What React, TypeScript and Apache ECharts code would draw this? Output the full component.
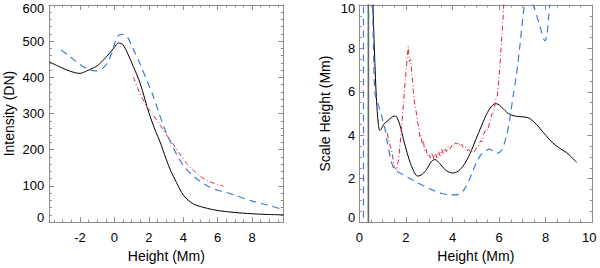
import React, { useEffect, useRef } from 'react';
import * as echarts from 'echarts';

// ---------- Left panel: Intensity vs Height ----------
const leftXTicks = [-2, 0, 2, 4, 6, 8];
const leftXMinorTicks = [-3.5, -3, -2.5, -1.5, -1, -0.5, 0.5, 1, 1.5, 2.5, 3, 3.5, 4.5, 5, 5.5, 6.5, 7, 7.5, 8.5, 9, 9.5];
const leftYTicks = [0, 100, 200, 300, 400, 500, 600];
const leftYMinorTicks = [20, 40, 60, 80, 120, 140, 160, 180, 220, 240, 260, 280, 320, 340, 360, 380, 420, 440, 460, 480, 520, 540, 560, 580];

const intensityBlack: [number, number][] = [
  [-3.78, 443], [-3.3, 432], [-2.8, 421], [-2.3, 413], [-2.0, 411], [-1.6, 418], [-1.0, 432],
  [-0.5, 455], [0, 483], [0.25, 495], [0.5, 490], [0.8, 463], [1.1, 430], [1.5, 383], [2.0, 303],
  [2.4, 250], [2.65, 222], [3.0, 175], [3.25, 144], [3.6, 110], [3.9, 82], [4.2, 64], [4.6, 50],
  [5.0, 43], [5.4, 38], [6.0, 32], [6.9, 27], [8.0, 23], [9.0, 21], [9.81, 20],
];
const intensityBlue: [number, number][] = [
  [-3.1, 476], [-2.6, 458], [-2.0, 436], [-1.5, 422], [-1.1, 418], [-0.7, 425], [-0.4, 440],
  [-0.1, 475], [0.1, 505], [0.3, 518], [0.5, 519], [0.75, 512], [1.1, 478], [1.5, 436], [1.9, 390],
  [2.26, 348], [2.6, 300], [2.84, 268], [3.1, 237], [3.42, 206], [3.7, 180], [4.0, 157], [4.3, 140],
  [4.6, 127], [5.0, 112], [5.4, 100], [6.0, 88], [6.5, 82], [7.0, 74], [8.0, 58], [9.0, 46], [9.81, 34],
];
const intensityRed: [number, number][] = [
  [1.1, 401], [1.4, 365], [1.7, 335], [1.9, 318], [2.2, 300], [2.65, 268], [3.0, 243], [3.42, 215],
  [3.8, 188], [4.2, 162], [4.6, 143], [5.0, 126], [5.4, 115], [5.74, 108], [6.0, 104], [6.33, 100],
];

// ---------- Right panel: Scale height vs Height ----------
const rightXTicks = [0, 2, 4, 6, 8, 10];
const rightXMinorTicks = [0.5, 1, 1.5, 2.5, 3, 3.5, 4.5, 5, 5.5, 6.5, 7, 7.5, 8.5, 9, 9.5];
const rightYTicks = [0, 2, 4, 6, 8, 10];
const rightYMinorTicks = [0.5, 1, 1.5, 2.5, 3, 3.5, 4.5, 5, 5.5, 6.5, 7, 7.5, 8.5, 9, 9.5];

const scaleBlackVertical: [number, number][] = [[0.39, -2], [0.39, 20]];
const scaleBlack: [number, number][] = [
  [0.55, 12], [0.6, 9.5], [0.67, 7.3], [0.72, 6.0], [0.77, 5.1], [0.82, 4.5], [0.88, 4.22], [0.95, 4.3],
  [1.05, 4.5], [1.25, 4.7], [1.5, 4.88], [1.6, 4.85], [1.75, 4.45], [1.9, 3.8], [2.05, 3.2], [2.25, 2.55],
  [2.5, 2.12], [2.7, 2.2], [2.9, 2.45], [3.1, 2.8], [3.25, 2.88], [3.45, 2.7], [3.7, 2.4], [4.0, 2.26],
  [4.25, 2.35], [4.5, 2.65], [4.75, 3.15], [5.0, 3.8], [5.25, 4.45], [5.5, 5.05], [5.75, 5.42],
  [5.9, 5.45], [6.1, 5.3], [6.4, 5.0], [6.7, 4.88], [7.1, 4.84], [7.3, 4.78], [7.6, 4.5], [8.0, 4.0],
  [8.3, 3.65], [8.6, 3.4], [8.9, 3.2], [9.1, 3.0], [9.33, 2.75],
];
const scaleBlueVertical: [number, number][] = [[0.18, -2], [0.18, 20]];
const scaleBlue: [number, number][] = [
  [0.55, 11], [0.62, 7.5], [0.67, 5.94], [0.78, 5.5], [0.88, 5.2], [1.0, 4.7], [1.1, 4.3], [1.2, 3.7],
  [1.3, 3.14], [1.4, 2.7], [1.53, 2.4], [1.75, 2.26], [2.1, 2.05], [2.46, 1.83], [2.8, 1.65],
  [3.18, 1.46], [3.5, 1.33], [3.9, 1.25], [4.1, 1.25], [4.32, 1.32], [4.5, 1.5], [4.7, 1.9],
  [4.89, 2.4], [5.05, 2.8], [5.25, 3.14], [5.45, 3.3], [5.6, 3.36], [5.75, 3.25], [5.9, 3.17],
  [6.1, 3.3], [6.3, 3.9], [6.46, 4.76], [6.6, 5.8], [6.75, 6.83], [6.9, 8.2], [7.04, 9.6], [7.2, 10.6],
  [7.35, 10.4], [7.5, 9.9], [7.76, 9.0], [7.97, 8.35], [8.05, 8.6], [8.12, 9.4], [8.2, 10.3],
];
const scaleRed: [number, number][] = [
  [1.2, 4.1], [1.3, 3.6], [1.39, 3.29], [1.5, 2.55], [1.6, 2.4], [1.7, 3.0], [1.8, 4.2], [1.9, 5.5],
  [2.0, 6.9], [2.1, 8.08], [2.15, 7.4], [2.2, 7.5], [2.25, 6.9], [2.32, 6.0], [2.39, 5.3], [2.44, 5.1],
  [2.5, 4.6], [2.55, 4.4], [2.6, 3.9], [2.65, 4.0], [2.7, 3.6], [2.75, 3.75], [2.8, 3.3], [2.86, 3.4],
  [2.92, 3.05], [2.98, 3.15], [3.05, 2.95], [3.12, 3.2], [3.2, 2.9], [3.27, 3.15], [3.34, 2.95],
  [3.4, 3.25], [3.47, 3.05], [3.54, 3.35], [3.6, 3.15], [3.67, 3.4], [3.74, 3.25], [3.82, 3.5],
  [3.9, 3.38], [3.98, 3.55], [4.05, 3.45], [4.12, 3.65], [4.19, 3.6], [4.26, 3.68], [4.33, 3.5],
  [4.4, 3.58], [4.47, 3.4], [4.55, 3.45], [4.62, 3.3], [4.7, 3.35], [4.78, 3.2], [4.86, 3.3],
  [4.94, 3.25], [5.04, 3.44], [5.12, 3.5], [5.2, 3.75], [5.27, 3.7], [5.33, 4.03], [5.45, 4.3],
  [5.52, 4.25], [5.6, 4.62], [5.7, 5.0], [5.78, 5.1], [5.83, 5.5], [5.87, 5.7], [5.92, 5.8],
  [5.97, 6.3], [6.04, 7.3], [6.12, 8.6], [6.18, 9.6], [6.22, 10.5],
];

const FONT = 'Liberation Sans, Arial, Helvetica, sans-serif';
const AXIS_COLOR = '#8c8c8c';
const BLUE = '#3d7bd6';
const RED = '#e0233f';

function makeAxes(
  dim: 'x' | 'y',
  gridIndex: number,
  min: number,
  max: number,
  majors: number[],
  minors: number[],
  name: string,
  nameGap: number,
  labelMargin: number,
  formatter?: (v: number) => string,
  rich?: any,
) {
  const posA = dim === 'x' ? 'bottom' : 'left';
  const posB = dim === 'x' ? 'top' : 'right';
  const base: any = {
    type: 'value',
    gridIndex,
    min,
    max,
    splitLine: { show: false },
    axisPointer: { show: false },
  };
  const line = { show: true, onZero: false, lineStyle: { color: AXIS_COLOR, width: 1 } };
  const noLine = { show: false, onZero: false };
  const major = { show: true, inside: true, length: 5, customValues: majors, lineStyle: { color: AXIS_COLOR } };
  const minor = { show: true, inside: true, length: 2.5, customValues: minors, lineStyle: { color: AXIS_COLOR } };
  return [
    {
      ...base,
      position: posA,
      name,
      nameLocation: 'middle',
      nameGap,
      nameTextStyle: { fontFamily: FONT, fontSize: 14, color: '#000' },
      axisLine: line,
      axisTick: major,
      axisLabel: {
        show: true,
        customValues: majors,
        margin: labelMargin,
        fontFamily: FONT,
        fontSize: 13,
        color: '#000',
        formatter: formatter,
        rich,
      },
    },
    { ...base, position: posA, axisLine: noLine, axisTick: minor, axisLabel: { show: false } },
    { ...base, position: posB, axisLine: line, axisTick: major, axisLabel: { show: false } },
    { ...base, position: posB, axisLine: noLine, axisTick: minor, axisLabel: { show: false } },
  ];
}

const richStyle = (pad: number[]) => ({ fontFamily: FONT, fontSize: 13, color: '#000', padding: pad });

export default function App() {
  const ref = useRef<HTMLDivElement>(null);
  useEffect(() => {
    if (!ref.current) return;
    const chart = echarts.init(ref.current, undefined, { renderer: 'svg' });

    const leftYFmt = (v: number) => (v === 0 ? '{b|0}' : v === 600 ? '{t|600}' : String(v));
    const rightYFmt = (v: number) => (v === 0 ? '{b|0}' : v === 10 ? '{t|10}' : String(v));
    const rightXFmt = (v: number) => (v === 10 ? '{r|10}' : String(v));
    const rich = {
      b: richStyle([0, 0, 10, 0]),
      t: richStyle([6, 0, 0, 0]),
      r: richStyle([0, 6, 0, 0]),
    };

    const xAxes = [
      ...makeAxes('x', 0, -3.78, 9.81, leftXTicks, leftXMinorTicks, 'Height (Mm)', 20, 9),
      ...makeAxes('x', 1, 0, 10, rightXTicks, rightXMinorTicks, 'Height (Mm)', 20, 9, rightXFmt, rich),
    ];
    const yAxes = [
      ...makeAxes('y', 0, 0, 600, leftYTicks, leftYMinorTicks, 'Intensity (DN)', 33, 5, leftYFmt, rich),
      ...makeAxes('y', 1, 0, 10, rightYTicks, rightYMinorTicks, 'Scale Height (Mm)', 27, 4, rightYFmt, rich),
    ];

    const lineSeries = (data: [number, number][], grid: number, color: string, type: any, width = 1, smooth: any = 0.3) => ({
      type: 'line',
      xAxisIndex: grid * 4,
      yAxisIndex: grid * 4,
      data,
      showSymbol: false,
      symbol: 'none',
      smooth,
      clip: true,
      lineStyle: { color, width, type },
      silent: true,
    });

    chart.setOption({
      animation: false,
      backgroundColor: '#fff',
      grid: [
        { left: 49.3, right: 316.7, top: 5, bottom: 37 },
        { left: 359.3, right: 7.7, top: 5, bottom: 37 },
      ],
      xAxis: xAxes,
      yAxis: yAxes,
      series: [
        lineSeries(intensityBlack, 0, '#000', 'solid', 1),
        lineSeries(intensityBlue, 0, BLUE, [7, 5], 1.2),
        lineSeries(intensityRed, 0, RED, [5, 2.5, 1, 2.5], 1),
        lineSeries(scaleBlackVertical, 1, '#666', 'solid', 1.6, false),
        lineSeries(scaleBlueVertical, 1, BLUE, [7, 5], 1.2, false),
        lineSeries(scaleBlack, 1, '#000', 'solid', 1),
        lineSeries(scaleBlue, 1, BLUE, [7, 5], 1.2),
        lineSeries(scaleRed, 1, RED, [5, 2.5, 1, 2.5], 1, false),
      ],
    });
    return () => chart.dispose();
  }, []);
  return (
    <div
      ref={ref}
      style={{ position: 'fixed', left: 0, top: 0, width: 600, height: 268, background: '#fff' }}
    />
  );
}
